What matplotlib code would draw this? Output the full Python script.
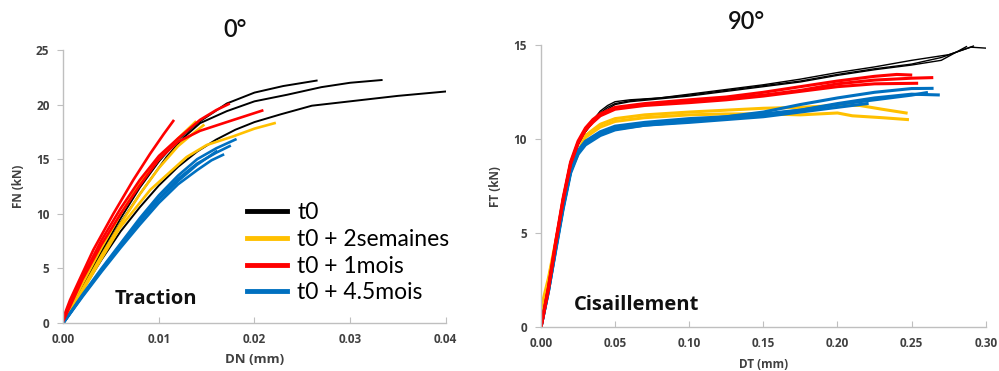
import matplotlib
matplotlib.use("Agg")
import matplotlib.pyplot as plt
from matplotlib.lines import Line2D

plt.rcParams['font.family'] = ['Lato', 'DejaVu Sans']

# ---- 0° : traction, DN (mm) vs FN (kN) ----
trac_t0 = [
    ([0, 0.002, 0.004, 0.006, 0.008, 0.010, 0.012, 0.014, 0.0171, 0.020, 0.023, 0.0265],
     [0, 3.4, 6.6, 9.6, 12.4, 14.8, 16.8, 18.3, 20.1, 21.1, 21.7, 22.2]),
    ([0, 0.002, 0.004, 0.006, 0.008, 0.0108, 0.0126, 0.0143, 0.0171, 0.020, 0.0234, 0.027, 0.030, 0.0333],
     [0, 3.2, 6.3, 9.2, 11.8, 15.2, 17.0, 18.3, 19.4, 20.3, 20.9, 21.6, 22.0, 22.25]),
    ([0, 0.002, 0.004, 0.006, 0.008, 0.010, 0.012, 0.014, 0.016, 0.018, 0.020, 0.0227, 0.026, 0.030, 0.035, 0.040],
     [0, 3.0, 5.8, 8.4, 10.6, 12.6, 14.3, 15.7, 16.8, 17.7, 18.4, 19.1, 19.9, 20.3, 20.8, 21.2]),
]
trac_2sem = [
    ([0, 0.002, 0.004, 0.006, 0.008, 0.010, 0.012, 0.0135, 0.01465],
     [0, 3.1, 6.2, 9.1, 11.8, 14.2, 16.2, 17.3, 18.1]),
    ([0, 0.002, 0.004, 0.006, 0.008, 0.010, 0.012, 0.0138],
     [0.2, 3.6, 6.9, 10.0, 12.8, 15.0, 16.9, 18.4]),
    ([0, 0.002, 0.004, 0.0059, 0.008, 0.0091, 0.0129, 0.015, 0.0178, 0.020, 0.0221],
     [0, 2.9, 5.9, 8.7, 11.0, 12.2, 15.2, 16.3, 17.1, 17.8, 18.3]),
]
trac_1mois = [
    ([0, 0.0007, 0.00314, 0.00523, 0.00732, 0.00908, 0.0105, 0.0115],
     [0.5, 2.1, 6.7, 10.0, 13.1, 15.5, 17.3, 18.5]),
    ([0, 0.002, 0.004, 0.006, 0.008, 0.010, 0.012, 0.0143, 0.016, 0.0173],
     [0.3, 4.2, 7.6, 10.5, 13.1, 15.3, 16.9, 18.6, 19.5, 20.05]),
    ([0, 0.002, 0.004, 0.006, 0.008, 0.010, 0.012, 0.0143, 0.0178, 0.0208],
     [0.2, 4.0, 7.2, 10.0, 12.6, 15.0, 16.6, 17.6, 18.6, 19.45]),
]
trac_45mois = [
    ([0, 0.002, 0.004, 0.006, 0.008, 0.010, 0.012, 0.014, 0.016, 0.018],
     [0, 2.6, 5.0, 7.3, 9.6, 11.7, 13.5, 15.0, 16.0, 16.8]),
    ([0, 0.002, 0.004, 0.006, 0.008, 0.010, 0.012, 0.014, 0.016, 0.0174],
     [0, 2.5, 4.9, 7.2, 9.4, 11.4, 13.2, 14.6, 15.6, 16.2]),
    ([0, 0.002, 0.004, 0.006, 0.008, 0.010, 0.012, 0.014, 0.0155, 0.0167],
     [0, 2.4, 4.7, 6.9, 9.0, 11.0, 12.7, 14.0, 14.9, 15.4]),
    ([0, 0.002, 0.004, 0.006, 0.008, 0.010, 0.012, 0.014, 0.016],
     [0, 2.5, 4.8, 7.1, 9.3, 11.3, 13.0, 14.5, 15.7]),
]

# ---- 90° : cisaillement, DT (mm) vs FT (kN) ----
cis_t0 = [
    ([0, 0.005, 0.010, 0.015, 0.020, 0.025, 0.030, 0.035, 0.040, 0.045, 0.050, 0.060, 0.080, 0.100, 0.125, 0.150, 0.175, 0.200, 0.225, 0.250, 0.275, 0.290, 0.300],
     [0, 2.0, 4.4, 6.7, 8.6, 9.8, 10.5, 11.0, 11.5, 11.8, 12.0, 12.1, 12.2, 12.4, 12.65, 12.9, 13.2, 13.55, 13.85, 14.2, 14.5, 14.9, 14.85]),
    ([0, 0.005, 0.010, 0.015, 0.020, 0.025, 0.030, 0.035, 0.040, 0.045, 0.050, 0.060, 0.080, 0.100, 0.125, 0.150, 0.175, 0.200, 0.225, 0.250, 0.270, 0.2917],
     [0, 2.0, 4.3, 6.6, 8.5, 9.7, 10.4, 10.9, 11.4, 11.7, 11.9, 12.05, 12.2, 12.35, 12.6, 12.85, 13.1, 13.45, 13.75, 14.0, 14.35, 14.96]),
    ([0, 0.005, 0.010, 0.015, 0.020, 0.025, 0.030, 0.035, 0.040, 0.045, 0.050, 0.060, 0.080, 0.100, 0.125, 0.150, 0.175, 0.200, 0.225, 0.250, 0.270, 0.287],
     [0, 1.9, 4.3, 6.6, 8.5, 9.7, 10.4, 10.9, 11.3, 11.6, 11.85, 12.0, 12.15, 12.3, 12.55, 12.8, 13.05, 13.4, 13.7, 13.95, 14.2, 14.93]),
]
cis_2sem = [
    ([0, 0.005, 0.010, 0.015, 0.020, 0.030, 0.040, 0.050, 0.070, 0.100, 0.125, 0.150, 0.175, 0.200, 0.215, 0.230, 0.2463],
     [1.0, 2.6, 4.6, 6.6, 8.4, 10.2, 10.8, 11.1, 11.3, 11.45, 11.55, 11.65, 11.7, 11.8, 11.8, 11.6, 11.4]),
    ([0, 0.005, 0.010, 0.015, 0.020, 0.030, 0.040, 0.050, 0.070, 0.100, 0.125, 0.150, 0.175, 0.200, 0.210, 0.230, 0.2472],
     [0.8, 2.4, 4.5, 6.5, 8.3, 10.1, 10.65, 10.95, 11.15, 11.3, 11.35, 11.35, 11.3, 11.4, 11.25, 11.15, 11.05]),
]
cis_1mois = [
    ([0, 0.005, 0.010, 0.015, 0.020, 0.025, 0.030, 0.035, 0.040, 0.050, 0.070, 0.100, 0.125, 0.150, 0.175, 0.200, 0.225, 0.240, 0.2494],
     [0, 2.1, 4.6, 6.9, 8.8, 9.9, 10.6, 11.05, 11.35, 11.7, 11.9, 12.1, 12.25, 12.5, 12.8, 13.1, 13.35, 13.45, 13.42]),
    ([0, 0.005, 0.010, 0.015, 0.020, 0.025, 0.030, 0.035, 0.040, 0.050, 0.070, 0.100, 0.125, 0.150, 0.175, 0.200, 0.225, 0.250, 0.2636],
     [0, 2.1, 4.5, 6.8, 8.7, 9.8, 10.5, 10.95, 11.3, 11.65, 11.85, 12.0, 12.15, 12.35, 12.6, 12.95, 13.15, 13.25, 13.28]),
    ([0, 0.005, 0.010, 0.015, 0.020, 0.025, 0.030, 0.035, 0.040, 0.050, 0.070, 0.100, 0.125, 0.150, 0.175, 0.200, 0.225, 0.2534],
     [0, 2.0, 4.5, 6.8, 8.7, 9.8, 10.5, 10.9, 11.25, 11.6, 11.8, 11.95, 12.1, 12.3, 12.55, 12.8, 12.95, 12.98]),
]
cis_45mois = [
    ([0, 0.005, 0.010, 0.015, 0.020, 0.025, 0.030, 0.040, 0.050, 0.070, 0.100, 0.125, 0.150, 0.175, 0.200, 0.225, 0.250, 0.2638],
     [0, 1.9, 4.2, 6.4, 8.3, 9.3, 9.8, 10.3, 10.6, 10.85, 11.0, 11.2, 11.45, 11.85, 12.2, 12.5, 12.7, 12.71]),
    ([0, 0.005, 0.010, 0.015, 0.020, 0.025, 0.030, 0.040, 0.050, 0.070, 0.100, 0.125, 0.150, 0.175, 0.200, 0.225, 0.250, 0.268],
     [0, 1.9, 4.1, 6.3, 8.2, 9.2, 9.7, 10.2, 10.5, 10.75, 10.95, 11.1, 11.3, 11.55, 11.9, 12.2, 12.4, 12.36]),
    ([0, 0.005, 0.010, 0.015, 0.020, 0.025, 0.030, 0.040, 0.050, 0.070, 0.100, 0.125, 0.150, 0.175, 0.200, 0.225, 0.250, 0.260],
     [0, 2.0, 4.3, 6.5, 8.4, 9.4, 9.9, 10.4, 10.7, 10.9, 11.1, 11.2, 11.35, 11.55, 11.85, 12.1, 12.35, 12.48]),
    ([0, 0.005, 0.010, 0.015, 0.020, 0.025, 0.030, 0.040, 0.050, 0.070, 0.100, 0.125, 0.150, 0.175, 0.200, 0.220],
     [0, 1.9, 4.2, 6.4, 8.3, 9.3, 9.8, 10.25, 10.55, 10.75, 10.9, 11.05, 11.2, 11.45, 11.7, 11.9]),
]

labels = ['t0', 't0 + 2semaines', 't0 + 1mois', 't0 + 4.5mois']
colors = ['#000000', '#FFC000', '#FF0000', '#0070C0']

dn_ticks = [0, 0.01, 0.02, 0.03, 0.04]
fn_ticks = [0, 5, 10, 15, 20, 25]
dt_ticks = [0, 0.05, 0.10, 0.15, 0.20, 0.25, 0.30]
ft_ticks = [0, 5, 10, 15]

grey = '#404040'
spine = '#BFBFBF'
bold_font = ['Open Sans', 'DejaVu Sans']
tick_fs = 8.5

fig = plt.figure(figsize=(9.99, 3.71), dpi=100)
ax1 = fig.add_axes([0.0634, 0.1294, 0.3827, 0.7358])
ax2 = fig.add_axes([0.5415, 0.1178, 0.4452, 0.7601])


def style(ax, xt, yt):
    for s in ['top', 'right']:
        ax.spines[s].set_visible(False)
    for s in ['left', 'bottom']:
        ax.spines[s].set_color(spine)
        ax.spines[s].set_linewidth(1.0)
    ax.set_xticks(xt, labels=['%.2f' % v for v in xt], fontsize=tick_fs,
                  fontweight='bold', family=bold_font, color=grey)
    ax.set_yticks(yt, labels=['%d' % v for v in yt], fontsize=tick_fs,
                  fontweight='bold', family=bold_font, color=grey)
    ax.tick_params(axis='y', direction='out', length=4, color=spine, pad=6)
    ax.tick_params(axis='x', direction='in', length=4, color=spine, pad=7)


# left panel
for x, y in trac_t0:
    ax1.plot(x, y, color=colors[0], lw=1.4)
for x, y in trac_2sem:
    ax1.plot(x, y, color=colors[1], lw=1.9)
for x, y in trac_45mois:
    ax1.plot(x, y, color=colors[3], lw=1.9)
for x, y in trac_1mois:
    ax1.plot(x, y, color=colors[2], lw=1.9)
ax1.set_xlim(0, 0.04)
ax1.set_ylim(0, 25)
style(ax1, dn_ticks, fn_ticks)
ax1.set_xlabel('DN (mm)', fontsize=9.5, fontweight='bold', family=bold_font,
               color=grey, labelpad=5)
ax1.set_ylabel('FN (kN)', fontsize=8.5, fontweight='bold', family=bold_font,
               color=grey, labelpad=8)
ax1.text(0.134, 0.07, 'Traction', transform=ax1.transAxes, fontsize=14.5,
         fontweight='bold', family=bold_font, color='#111111')
fig.text(0.235, 0.92, '0°', ha='center', va='center', fontsize=17,
         fontweight='semibold', color='#111111')

# right panel
for x, y in cis_t0:
    ax2.plot(x, y, color=colors[0], lw=1.0)
for x, y in cis_2sem:
    ax2.plot(x, y, color=colors[1], lw=2.2)
for x, y in cis_45mois:
    ax2.plot(x, y, color=colors[3], lw=2.2)
for x, y in cis_1mois:
    ax2.plot(x, y, color=colors[2], lw=2.2)
ax2.set_xlim(0, 0.30)
ax2.set_ylim(0, 15)
style(ax2, dt_ticks, ft_ticks)
ax2.set_xlabel('DT (mm)', fontsize=8.5, fontweight='bold', family=bold_font,
               color=grey, labelpad=6)
ax2.set_ylabel('FT (kN)', fontsize=8.5, fontweight='bold', family=bold_font,
               color=grey, labelpad=8)
ax2.text(0.075, 0.06, 'Cisaillement', transform=ax2.transAxes, fontsize=14.5,
         fontweight='bold', family=bold_font, color='#111111')
fig.text(0.747, 0.943, '90°', ha='center', va='center', fontsize=17,
         fontweight='semibold', color='#111111')

handles = [Line2D([0], [0], color=c, lw=3.5) for c in colors]
fig.legend(handles, labels, loc='upper left', bbox_to_anchor=(0.247, 0.455),
           frameon=False, fontsize=16.5, handlelength=1.75, handletextpad=0.45,
           labelspacing=0.25, borderaxespad=0, borderpad=0)

fig.savefig('out.png', dpi=100)
